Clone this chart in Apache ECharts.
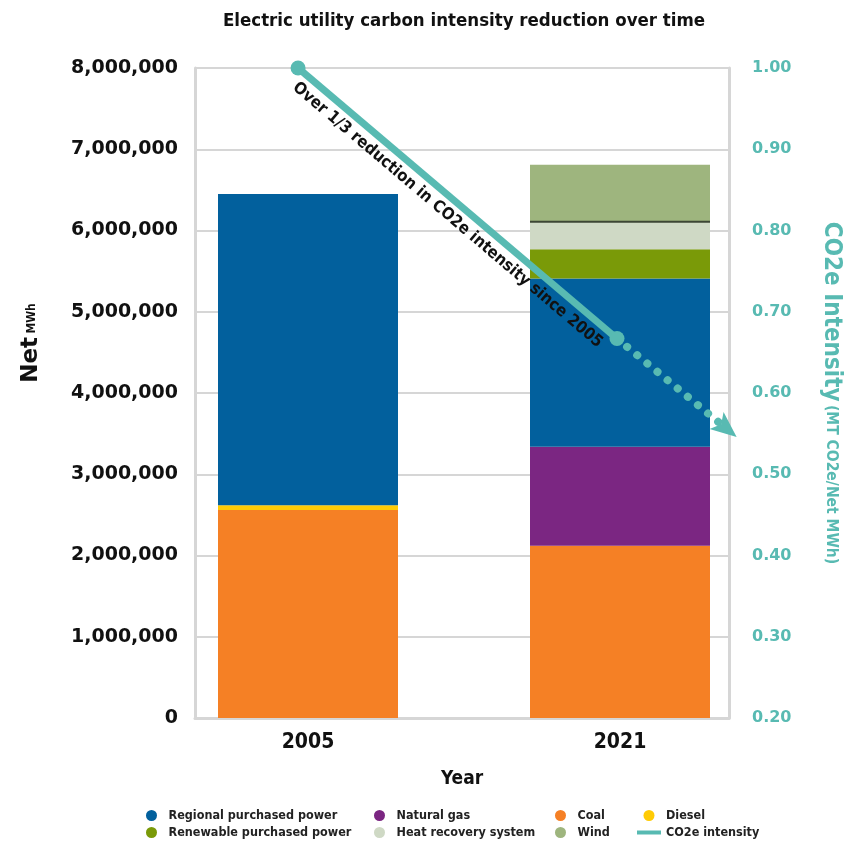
<!DOCTYPE html>
<html>
<head>
<meta charset="utf-8">
<script src="https://cdn.jsdelivr.net/npm/echarts@6/dist/echarts.min.js"></script>
<style>
  html, body { margin: 0; padding: 0; background: #ffffff; }
  #chart { width: 858px; height: 843px; }
</style>
</head>
<body>
<div id="chart"></div>
<script>
// Net generation by source (MWh), bottom-to-top stacking order
const years = ['2005', '2021'];
const coal = [2560000, 2120000];
const diesel = [60000, 0];
const naturalGas = [0, 1220000];
const regionalPurchased = [3830000, 2070000];
const renewablePurchased = [0, 360000];
const heatRecovery = [0, 350000];
const wind = [0, 690000];

// CO2e intensity (MT CO2e / Net MWh): measured points and projected trend
const intensityYears = [2005, 2021];
const intensityValues = [1.00, 0.667];
const projectionYears = [2021, 2026.5];
const projectionValues = [0.667, 0.556];

const leftTicks = { min: 0, max: 8000000, interval: 1000000 };
const rightTicks = { min: 0.2, max: 1.0, interval: 0.1 };

const COND = '"DejaVu Sans Condensed", "DejaVu Sans", sans-serif';
const WIDE = '"DejaVu Sans", Verdana, sans-serif';
const TEAL = '#58bab2';
const GRID_LINE = '#d6d6d6';

// right-pointing arrow head with a notched tail
const ARROW_HEAD = 'path://M0,0 L26,11 L0,22 L6,11 Z';
const LINE_ICON = 'path://M0,0 L24,0 L24,4 L0,4 Z';

const colors = {
  coal: '#f58025',
  diesel: '#ffcb05',
  gas: '#7b2682',
  regional: '#02609d',
  renewable: '#7a9a08',
  heat: '#cfd9c5',
  wind: '#9eb57e'
};

function barSeries(name, data, color, extra) {
  return Object.assign({
    name: name,
    type: 'bar',
    stack: 'net',
    xAxisIndex: 1,
    yAxisIndex: 2,
    barWidth: 180,
    data: data,
    itemStyle: { color: color },
    emphasis: { disabled: true }
  }, extra || {});
}

const fmtInt = v => v.toLocaleString('en-US');

const legendText = { fontFamily: COND, fontWeight: 'bold', fontSize: 12.5, color: '#222' };
function legendCol(left, names) {
  return {
    orient: 'vertical',
    left: left,
    top: 809,
    padding: 0,
    itemWidth: 24,
    itemHeight: 11,
    itemGap: 4,
    icon: 'circle',
    selectedMode: false,
    textStyle: legendText,
    data: names
  };
}

const chart = echarts.init(document.getElementById('chart'), null, { renderer: 'canvas' });

chart.setOption({
  animation: false,
  backgroundColor: '#ffffff',
  title: {
    text: 'Electric utility carbon intensity reduction over time',
    left: 459,
    textAlign: 'center',
    top: 7,
    textStyle: { fontFamily: COND, fontWeight: 'bold', fontSize: 18.5, color: '#111' }
  },
  legend: [
    legendCol(146, ['Regional purchased power', 'Renewable purchased power']),
    legendCol(374, ['Natural gas', 'Heat recovery system']),
    legendCol(555, ['Coal', 'Wind']),
    legendCol(637, [
      { name: 'Diesel', icon: 'circle' },
      { name: 'CO2e intensity', icon: LINE_ICON, itemStyle: { color: TEAL } }
    ])
  ],
  grid: [
    // framed plot area carrying the axes
    { left: 195, right: 129, top: 68, bottom: 125 },
    // bar layout area
    { left: 152, right: 82, top: 68, bottom: 125 }
  ],
  xAxis: [
    {
      gridIndex: 0,
      type: 'value',
      min: 1999.83,
      max: 2026.62,
      position: 'bottom',
      name: 'Year',
      nameLocation: 'middle',
      nameGap: 52,
      nameTextStyle: { fontFamily: COND, fontWeight: 'bold', fontSize: 19, color: '#111' },
      axisLine: { show: true, lineStyle: { color: GRID_LINE, width: 3 } },
      axisTick: { show: false },
      axisLabel: { show: false },
      splitLine: { show: false }
    },
    {
      gridIndex: 1,
      type: 'category',
      data: years,
      position: 'bottom',
      axisLine: { show: false },
      axisTick: { show: false },
      axisLabel: {
        margin: 14,
        fontFamily: COND, fontWeight: 'bold', fontSize: 21, color: '#111'
      }
    }
  ],
  yAxis: [
    {
      gridIndex: 0,
      type: 'value',
      position: 'left',
      min: leftTicks.min,
      max: leftTicks.max,
      interval: leftTicks.interval,
      name: '{big|Net} {small|MWh}',
      nameLocation: 'middle',
      nameGap: 152,
      nameRotate: 90,
      nameTextStyle: {
        padding: [0, 0, 0, 100],
        rich: {
          big: { fontFamily: WIDE, fontWeight: 'bold', fontSize: 23, color: '#111' },
          small: { fontFamily: COND, fontWeight: 'bold', fontSize: 12, color: '#111' }
        }
      },
      axisLine: { show: true, lineStyle: { color: GRID_LINE, width: 3 } },
      axisTick: { show: false },
      axisLabel: {
        margin: 17,
        formatter: fmtInt,
        fontFamily: WIDE, fontWeight: 'bold', fontSize: 19, color: '#111'
      },
      splitLine: { show: true, lineStyle: { color: GRID_LINE, width: 2 } }
    },
    {
      gridIndex: 0,
      type: 'value',
      position: 'right',
      min: rightTicks.min,
      max: rightTicks.max,
      interval: rightTicks.interval,
      name: '{big|CO2e Intensity} {small|(MT CO2e/Net MWh)}',
      nameLocation: 'middle',
      nameGap: 90,
      nameRotate: -90,
      nameTextStyle: {
        rich: {
          big: { fontFamily: COND, fontWeight: 'bold', fontSize: 24, color: TEAL },
          small: { fontFamily: COND, fontWeight: 'bold', fontSize: 15.5, color: TEAL }
        }
      },
      axisLine: { show: true, lineStyle: { color: GRID_LINE, width: 3 } },
      axisTick: { show: false },
      axisLabel: {
        margin: 23,
        formatter: v => v.toFixed(2),
        fontFamily: WIDE, fontWeight: 'bold', fontSize: 16, color: TEAL
      },
      splitLine: { show: false }
    },
    {
      gridIndex: 1,
      type: 'value',
      min: leftTicks.min,
      max: leftTicks.max,
      show: false
    }
  ],
  series: [
    barSeries('Coal', coal, colors.coal),
    barSeries('Diesel', diesel, colors.diesel),
    barSeries('Natural gas', naturalGas, colors.gas),
    barSeries('Regional purchased power', regionalPurchased, colors.regional),
    barSeries('Renewable purchased power', renewablePurchased, colors.renewable),
    barSeries('Heat recovery system', heatRecovery, colors.heat),
    barSeries('Wind', wind, colors.wind, {
      itemStyle: {
        color: colors.wind,
        shadowColor: '#3c4634',
        shadowBlur: 0,
        shadowOffsetY: 2
      }
    }),
    {
      name: 'CO2e intensity',
      type: 'line',
      xAxisIndex: 0,
      yAxisIndex: 1,
      z: 10,
      data: intensityYears.map((y, i) => [y, intensityValues[i]]),
      symbol: 'circle',
      symbolSize: 15,
      itemStyle: { color: TEAL },
      lineStyle: { color: TEAL, width: 7 },
      emphasis: { disabled: true },
      markLine: {
        silent: true,
        symbol: 'none',
        lineStyle: { color: 'rgba(0,0,0,0)', width: 0 },
        label: {
          show: true,
          position: 'insideMiddleBottom',
          distance: 7,
          formatter: 'Over 1/3 reduction in CO2e intensity since 2005',
          fontFamily: COND, fontWeight: 'bold', fontSize: 16.5, color: '#111'
        },
        data: [[
          { coord: [intensityYears[0], intensityValues[0]] },
          { coord: [intensityYears[1], intensityValues[1]] }
        ]]
      }
    },
    {
      name: 'CO2e projection',
      type: 'line',
      xAxisIndex: 0,
      yAxisIndex: 1,
      z: 9,
      clip: false,
      data: [
        { value: [projectionYears[0], projectionValues[0]], symbol: 'none' },
        { value: [projectionYears[1], projectionValues[1]], symbol: ARROW_HEAD }
      ],
      showSymbol: true,
      symbolSize: [26, 22],
      symbolRotate: -39.5,
      itemStyle: { color: TEAL },
      lineStyle: { color: TEAL, width: 8, type: [0.1, 13], cap: 'round' },
      emphasis: { disabled: true }
    }
  ]
});
</script>
</body>
</html>
